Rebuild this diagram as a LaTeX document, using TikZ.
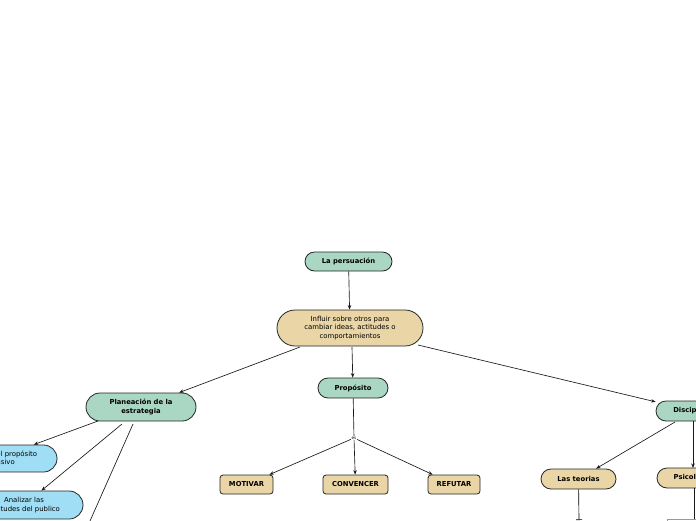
\documentclass[tikz,border=0pt]{standalone}
\usepackage{fontspec}
\setmainfont{DejaVu Sans}
\usetikzlibrary{arrows.meta}
\definecolor{verde}{RGB}{170,214,196}
\definecolor{arena}{RGB}{234,213,166}
\definecolor{celeste}{RGB}{160,222,246}
\tikzset{
  base/.style={draw=black!85, line width=0.8pt, align=center, inner sep=0pt,
    font=\fontsize{6.9}{8.6}\selectfont},
  verdebox/.style={base, fill=verde, font=\fontsize{6.8}{8.6}\selectfont\bfseries},
  arenapill/.style={base, fill=arena},
  arenabox/.style={base, fill=arena, rounded corners=3pt, minimum width=53pt, minimum height=19pt,
    font=\fontsize{6.8}{8.6}\selectfont\bfseries},
  azulbox/.style={base, fill=celeste},
  conn/.style={-{Stealth[length=4.5pt,width=3.5pt]}, line width=0.65pt, draw=black!90},
  plain/.style={line width=0.65pt, draw=black!90},
}
\begin{document}
\begin{tikzpicture}[x=1pt,y=-1pt]
\useasboundingbox (0,0) rectangle (696,520);
\clip (0,0) rectangle (696,520);
\fill[white] (0,0) rectangle (696,520);

\node[verdebox, minimum width=87pt, minimum height=19pt, rounded corners=9.5pt] (lap) at (348.5,261.5) {La persuación};
\node[arenapill, minimum width=146pt, minimum height=36pt, rounded corners=18pt] (inf) at (350,328) {Influir sobre otros para\\cambiar ideas, actitudes o\\comportamientos};
\node[verdebox, minimum width=70pt, minimum height=20pt, rounded corners=10pt] (pro) at (353,388) {Propósito};
\node[verdebox, minimum width=110pt, minimum height=28pt, rounded corners=14pt] (pla) at (141,407) {Planeación de la\\estrategia};
\node[verdebox, minimum width=76pt, minimum height=20pt, rounded corners=10pt] (dis) at (694,411) {Disciplinas};
\node[inner sep=0.5pt, font=\fontsize{4.2}{5}\selectfont, fill=white] (es) at (354,438) {es};
\node[arenabox] (mot) at (246.5,484.5) {MOTIVAR};
\node[arenabox, minimum width=65pt] (con) at (355.5,484.5) {CONVENCER};
\node[arenabox, minimum width=52pt] (ref) at (454,484.5) {REFUTAR};
\node[arenapill, minimum width=75pt, minimum height=20pt, rounded corners=10pt,
  font=\fontsize{6.8}{8.6}\selectfont\bfseries] (teo) at (578.5,479) {Las teorias};
\node[arenapill, minimum width=72pt, minimum height=20pt, rounded corners=10pt,
  font=\fontsize{6.8}{8.6}\selectfont\bfseries] (psi) at (693,478) {Psicología};
\node[azulbox, minimum width=122pt, minimum height=27pt, rounded corners=13.5pt] (def) at (-4,458.5) {Determinar el propósito\\persuasivo};
\node[azulbox, minimum width=118pt, minimum height=28pt, rounded corners=14pt] (ana) at (24,505) {Analizar las\\actitudes del publico};
\node[draw=black!40, line width=0.6pt, minimum width=60pt, minimum height=20pt, anchor=north west] (low) at (667,519) {};

\coordinate (pl3) at (86,530);
\coordinate (teoB) at (579,520);
\coordinate (psiB) at (694,519);

\draw[conn] (lap) -- (inf);
\draw[conn] (300,347) -- (pla);
\draw[conn] (352,347) -- (pro);
\draw[conn] (418,345) -- (dis);
\draw[conn] (98,421) -- (def);
\draw[conn] (122,424) -- (ana);
\draw[plain] (133,424) -- (pl3);
\draw[plain] (pro) -- (es);
\draw[conn] (es) -- (mot);
\draw[conn] (es) -- (con);
\draw[conn] (es) -- (ref);
\draw[conn] (675,422) -- (teo);
\draw[conn] (693,421) -- (693,468);
\draw[-{Bar[width=6pt]}, line width=0.65pt] (teo) -- (teoB);
\draw[plain] (694,488) -- (psiB);
\end{tikzpicture}
\end{document}
